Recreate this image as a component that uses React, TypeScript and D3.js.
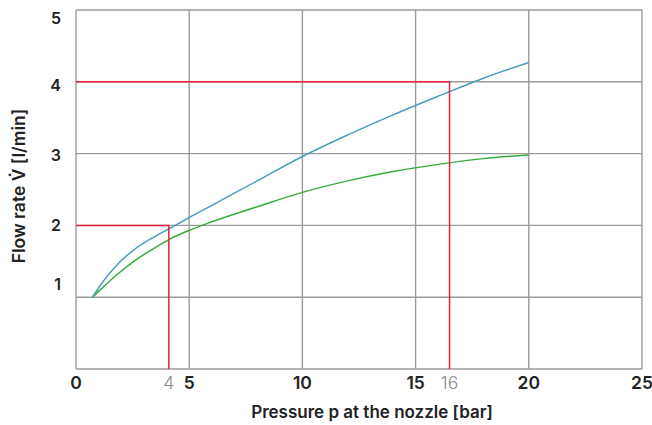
import React from "react";
import * as d3 from "d3";

const xTicks = [0, 5, 10, 15, 20, 25];
const yTicks = [1, 2, 3, 4, 5];
const yTickOffsets = [-13, 0, 1, 3, 8];

const blueP = [0.73, 1.13, 1.87, 2.6, 3.34, 4.15, 5, 6, 8, 10, 12, 14, 16, 18, 20];
const blueV = [1.0, 1.19, 1.47, 1.67, 1.82, 1.96, 2.11, 2.28, 2.62, 2.96, 3.26, 3.54, 3.8, 4.05, 4.27];
const greenP = [0.73, 1.13, 1.87, 2.6, 3.34, 4.15, 5, 6, 8, 10, 12, 14, 16, 18, 20];
const greenV = [1.0, 1.12, 1.33, 1.51, 1.66, 1.81, 1.93, 2.05, 2.26, 2.46, 2.62, 2.75, 2.85, 2.93, 2.98];

const markP = [4.1, 16.5];
const markV = [2, 4];
const markLabels = ["4", "16"];

const W = 652, H = 425;
const left = 76, right = 642, top = 10, bottom = 369;

export default function App() {
  const x = d3.scaleLinear().domain([0, 25]).range([left, right]);
  const y = d3.scaleLinear().domain([0, 5]).range([bottom, top]);
  const line = d3
    .line<[number, number]>()
    .x((d) => x(d[0]))
    .y((d) => y(d[1]))
    .curve(d3.curveMonotoneX);
  const blue = blueP.map((p, i) => [p, blueV[i]] as [number, number]);
  const green = greenP.map((p, i) => [p, greenV[i]] as [number, number]);
  const grid = "#9b9b9b";
  const font = "Inter, Roboto, 'Liberation Sans', Arial, sans-serif";
  return (
    <svg
      width={W}
      height={H}
      style={{ position: "absolute", left: 0, top: 0, background: "#fff" }}
      fontFamily={font}
    >
      {xTicks.map((t) => (
        <line key={"gx" + t} x1={x(t)} x2={x(t)} y1={top} y2={bottom} stroke={grid} strokeWidth={1.4} />
      ))}
      {[0, ...yTicks].map((t) => (
        <line key={"gy" + t} x1={left} x2={right} y1={y(t)} y2={y(t)} stroke={grid} strokeWidth={1.4} />
      ))}
      <path d={line(green) || ""} fill="none" stroke="#3aaa3f" strokeWidth={1.5} />
      <path d={line(blue) || ""} fill="none" stroke="#4a9dc0" strokeWidth={1.5} />
      {markP.map((p, i) => (
        <path
          key={"m" + i}
          d={`M${x(0)},${y(markV[i])}H${x(p)}V${y(0)}`}
          fill="none"
          stroke="#e8203c"
          strokeWidth={1.5}
        />
      ))}
      {yTicks.map((t, i) => (
        <text
          key={"yl" + t}
          x={61}
          y={y(t) + yTickOffsets[i]}
          textAnchor="end"
          dominantBaseline="central"
          fontSize={16}
          fontWeight={600}
          fill="#222"
        >
          {t}
        </text>
      ))}
      {xTicks.map((t) => (
        <text
          key={"xl" + t}
          x={x(t)}
          y={388.5}
          textAnchor="middle"
          fontSize={17.5}
          fontWeight={600}
          fill="#222"
        >
          {t}
        </text>
      ))}
      {markP.map((p, i) => (
        <text
          key={"ml" + i}
          x={x(p)}
          y={388.5}
          textAnchor="middle"
          fontSize={17.5}
          fontWeight={300}
          fill="#8a8a8a"
        >
          {markLabels[i]}
        </text>
      ))}
      <text x={372} y={418} textAnchor="middle" fontSize={17} fontWeight={600} fill="#222">
        Pressure p at the nozzle [bar]
      </text>
      <text
        transform={`translate(25,186) rotate(-90)`}
        textAnchor="middle"
        fontSize={17.5}
        fontWeight={600}
        fill="#222"
      >
        Flow rate V̇ [l/min]
      </text>
    </svg>
  );
}
